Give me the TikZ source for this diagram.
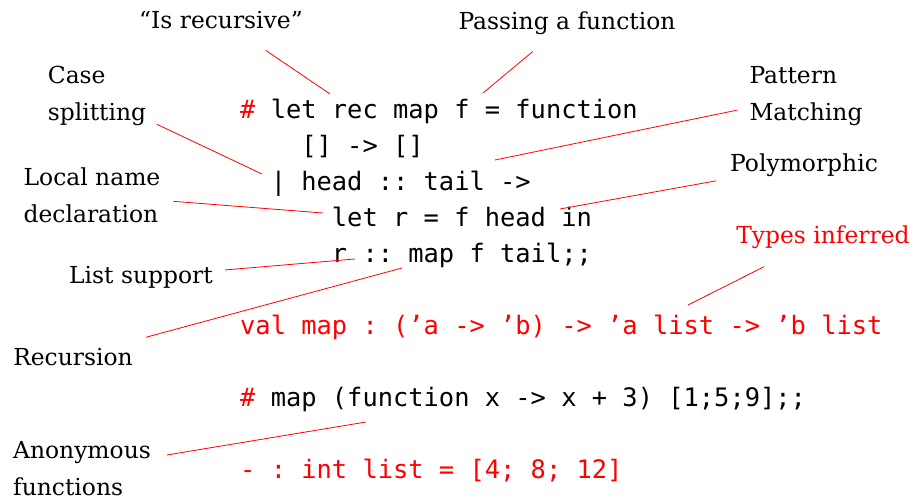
\documentclass[tikz,border=0pt]{standalone}
\usepackage{fontspec}
\setmainfont{DejaVu Serif}
\setmonofont{DejaVu Sans Mono}
\usetikzlibrary{positioning}

\begin{document}
\begin{tikzpicture}[x=1pt,y=-1pt,node distance=36pt,on grid,
		code/.style={font=\fontsize{25.4}{36}\selectfont\ttfamily, inner sep=0pt, anchor=base west},
		note/.style={font=\fontsize{23.4}{37}\selectfont, align=left, inner sep=4pt},
		pointer/.style={draw=red, line width=0.8pt}
	]
	\useasboundingbox (0,0) rectangle (912,498);

	% the program
	\node[code] (c_0) at (240,118) {\textcolor{red}{\#} let rec map f = function};
	\node[code] (c_1) [below=of c_0.base west, anchor=base west] {\ \ \ \ [] -> []};
	\node[code] (c_2) [below=of c_1.base west, anchor=base west] {\ \ | head :: tail ->};
	\node[code] (c_3) [below=of c_2.base west, anchor=base west] {\ \ \ \ \ \ let r = f head in};
	\node[code] (c_4) [below=of c_3.base west, anchor=base west] {\ \ \ \ \ \ r :: map f tail;;};
	\node[code,red] (c_5) [below=of c_4.base west, anchor=base west, yshift=-36pt] {val map : (’a -> ’b) -> ’a list -> ’b list};
	\node[code] (c_6) [below=of c_5.base west, anchor=base west, yshift=-36pt] {\textcolor{red}{\#} map (function x -> x + 3) [1;5;9];;};
	\node[code,red] (c_7) [below=of c_6.base west, anchor=base west, yshift=-36pt] {- : int list = [4; 8; 12]};

	% the notes
	\node[note] (n_0) at (221,20) {“Is recursive”};
	\node[note] (n_1) at (567,23) {Passing a function};
	\node[note] (n_2) at (97,96) {Case\\splitting};
	\node[note] (n_3) at (92,195) {Local name\\declaration};
	\node[note] (n_4) at (806,96) {Pattern\\Matching};
	\node[note] (n_5) at (804,165) {Polymorphic};
	\node[note,red] (n_6) at (823,237) {Types inferred};
	\node[note] (n_7) at (141,277) {List support};
	\node[note] (n_8) at (73,357) {Recursion};
	\node[note] (n_9) at (82,469) {Anonymous\\functions};

	% where they point
	\coordinate (t_0) at (330,94);
	\coordinate (t_1) at (483,93);
	\coordinate (t_2) at (262,174);
	\coordinate (t_3) at (323,213);
	\coordinate (t_4) at (495,160);
	\coordinate (t_5) at (560,209);
	\coordinate (t_6) at (688,305);
	\coordinate (t_7) at (355,259);
	\coordinate (t_8) at (402,268);
	\coordinate (t_9) at (366,422);

	\draw[pointer, shorten <=31pt] (n_0) -- (t_0);
	\draw[pointer, shorten <=20pt] (n_1) -- (t_1);
	\draw[pointer, shorten <=7pt] (n_2) -- (t_2);
	\draw[pointer, shorten <=9pt] (n_3) -- (t_3);
	\draw[pointer, shorten <=8pt] (n_4) -- (t_4);
	\draw[pointer, shorten <=10pt] (n_5) -- (t_5);
	\draw[pointer, shorten <=31pt] (n_6) -- (t_6);
	\draw[pointer, shorten <=8pt] (n_7) -- (t_7);
	\draw[pointer, shorten <=26pt] (n_8) -- (t_8);
	\draw[pointer, shorten <=12pt] (n_9) -- (t_9);
\end{tikzpicture}
\end{document}
